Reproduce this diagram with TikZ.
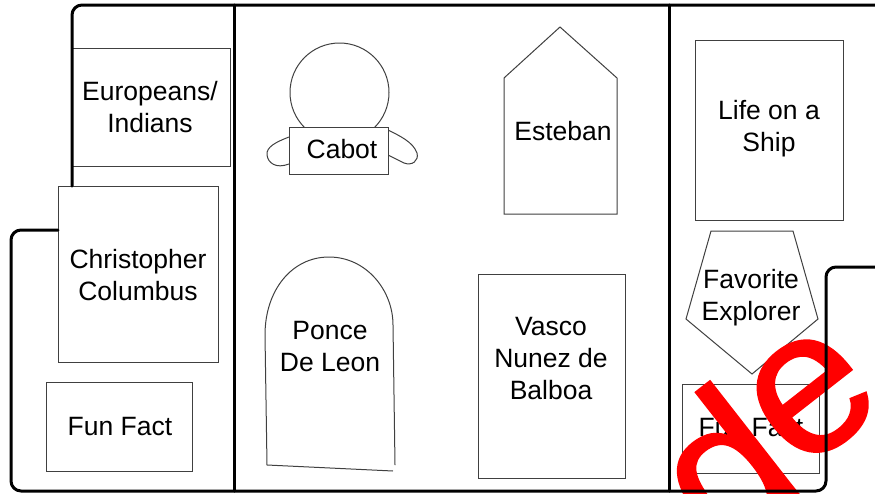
\documentclass[tikz,border=0pt]{standalone}
\usepackage{fontspec}
\setmainfont{Liberation Sans}
\newfontfamily\redfont{Liberation Sans}[FakeBold=1]
\begin{document}
\begin{tikzpicture}[x=1pt,y=-1pt,
  wall/.style={line width=3pt, black, line cap=round, line join=round},
  box/.style={draw=black!75, line width=1pt, fill=white},
  lbl/.style={font=\fontsize{26.5}{32}\selectfont, align=center, inner sep=0pt},
  redtext/.style={text=red, font=\redfont\fontsize{205}{205}\selectfont, inner sep=0pt}]
\useasboundingbox (0,0) rectangle (875,493);
\clip (0,0) rectangle (875,493);
% left room
\node[box, minimum width=158pt, minimum height=118pt, inner sep=0pt] (euro) at (151,107) {};
\node[lbl] (eurot) at (150,107) {Europeans/\\Indians};
\node[box, minimum width=160pt, minimum height=176pt, inner sep=0pt] (colb) at (138,274) {};
\node[lbl] (colt) at (138,275) {Christopher\\Columbus};
\node[box, minimum width=146pt, minimum height=89pt, inner sep=0pt] (fun1) at (119,427) {};
\node[lbl] (fun1t) at (120,427) {Fun Fact};
% Cabot
\draw[box] (289,137) .. controls (276,142) and (266,147) .. (267,155) .. controls (268,163) and (276,169) .. (289,164);
\draw[box] (388,130) .. controls (400,136) and (413,142) .. (417,153) .. controls (419,161) and (412,166) .. (404,163) -- (388,155);
\draw[box] (339.5,92.5) circle[radius=49.5];
\node[box, minimum width=99pt, minimum height=47pt, inner sep=0pt] (cabb) at (338.5,150.5) {};
\node[lbl] (cabt) at (342,149) {Cabot};
% Esteban
\draw[box] (504,214) -- (504,78) -- (560,27) -- (617,78) -- (617,214) -- cycle;
\node[lbl] (estt) at (563,131) {Esteban};
% Ponce
\draw[box, fill=none] (393,471) -- (267,465) -- (265,335) .. controls (265,290) and (292,257) .. (329,257) .. controls (366,257) and (393,290) .. (393,325) -- (395,465);
\node[lbl] (pont) at (330,347) {Ponce\\De Leon};
% Vasco
\node[box, minimum width=147pt, minimum height=204pt, inner sep=0pt] (vasb) at (551.5,376) {};
\node[lbl] (vast) at (551,359) {Vasco\\Nunez de\\Balboa};
% right room
\node[box, minimum width=148pt, minimum height=180pt, inner sep=0pt] (lifeb) at (769,130) {};
\node[lbl] (lifet) at (769,129) {Life on a\\Ship};
\draw[box] (711,231) -- (793,231) -- (818,319) -- (752,374) -- (686,319) -- cycle;
\node[lbl] (favt) at (751,298) {Favorite\\Explorer};
\node[box, minimum width=137pt, minimum height=89pt, inner sep=0pt] (fun2) at (750.5,428.5) {};
\node[lbl] (fun2t) at (751,428) {Fun Fact};
% red overlay
\node[redtext, rotate=38, anchor=base] (de) at (800,474) {\raisebox{-20pt}{d}e};
% walls
\draw[wall, rounded corners=10pt] (72,186) -- (72,5) -- (875,5);
\draw[wall, rounded corners=10pt] (58,230) -- (11,230) -- (11,491) -- (826,491) -- (826,267) -- (875,267);
\draw[wall] (234,5) -- (234,491);
\draw[wall] (669,5) -- (669,491);
\end{tikzpicture}
\end{document}
